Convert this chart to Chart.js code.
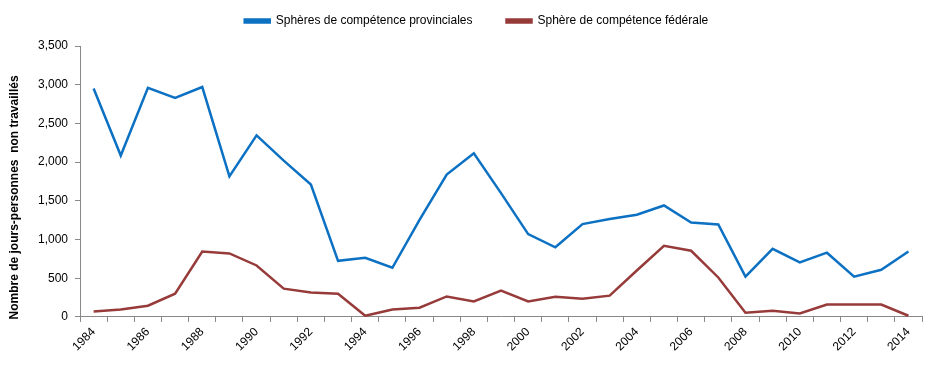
<!DOCTYPE html>
<html>
<head>
<meta charset="utf-8">
<script src="https://cdn.jsdelivr.net/npm/chart.js@4.4.1/dist/chart.umd.min.js"></script>
<style>
  html, body { margin: 0; padding: 0; background: #ffffff; }
  #wrap { width: 936px; height: 365px; position: relative; }
</style>
</head>
<body>
<div id="wrap"><canvas id="c" width="936" height="365"></canvas></div>
<script>
const years = [1984,1985,1986,1987,1988,1989,1990,1991,1992,1993,1994,1995,1996,1997,1998,1999,2000,2001,2002,2003,2004,2005,2006,2007,2008,2009,2010,2011,2012,2013,2014];
const provincial = [2950,2085,2960,2830,2970,1815,2345,2020,1710,725,765,635,1255,1840,2115,1600,1070,900,1200,1265,1320,1440,1220,1195,520,880,705,830,520,610,845];
const federal = [70,95,145,300,845,820,665,365,315,300,15,95,120,265,200,340,200,260,235,275,600,920,855,510,55,80,45,160,160,160,15];
const seriesNames = ["Sphères de compétence provinciales", "Sphère de compétence fédérale"];
const yTitle = "Nombre de jours-personnes  non travaillés";
const yMax = 3500, yStep = 500;

const blue = '#0C71C3';
const red = '#973B3A';
const font = "'Liberation Sans', Arial, sans-serif";

const legendMargin = {
  id: 'legendMargin',
  beforeInit(chart) {
    const orig = chart.legend.fit;
    chart.legend.fit = function () { orig.bind(chart.legend)(); this.height = 65; };
  }
};

const yTitlePlugin = {
  id: 'yTitlePlugin',
  afterDraw(chart) {
    const ca = chart.chartArea;
    const ctx = chart.ctx;
    ctx.save();
    ctx.translate(15, (ca.top + ca.bottom) / 2 + 16);
    ctx.rotate(-Math.PI / 2);
    ctx.font = "bold 12px " + font;
    ctx.fillStyle = '#000';
    ctx.textAlign = 'center';
    ctx.textBaseline = 'middle';
    ctx.fillText(yTitle, 0, 0);
    ctx.restore();
  }
};

new Chart(document.getElementById('c'), {
  type: 'line',
  data: {
    labels: years.map(String),
    datasets: [
      { label: seriesNames[0], data: provincial, borderColor: blue, backgroundColor: blue, borderWidth: 2.5, pointRadius: 0, tension: 0 },
      { label: seriesNames[1], data: federal, borderColor: red, backgroundColor: red, borderWidth: 2.5, pointRadius: 0, tension: 0 }
    ]
  },
  plugins: [legendMargin, yTitlePlugin],
  options: {
    responsive: false,
    animation: false,
    devicePixelRatio: 1,
    layout: { padding: { left: 31, right: 14, top: -19, bottom: 8 } },
    plugins: {
      legend: {
        position: 'top',
        labels: { font: { family: font, size: 12 }, color: '#000', boxWidth: 25, boxHeight: 3, padding: 34 }
      },
      tooltip: { enabled: false }
    },
    scales: {
      x: {
        offset: true,
        grid: { offset: true, drawOnChartArea: false, drawTicks: true, tickLength: 5, color: '#888' },
        border: { color: '#888' },
        ticks: {
          autoSkip: false, maxRotation: 45, minRotation: 45, color: '#000',
          font: { family: font, size: 12 },
          callback: function(v, i) { return (years[i] % 2 === 0) ? String(years[i]) : ''; }
        }
      },
      y: {
        min: 0, max: yMax,
        grid: { drawOnChartArea: false, tickLength: 5, color: '#888' },
        border: { color: '#888' },
        ticks: {
          stepSize: yStep, padding: 7, color: '#000',
          font: { family: font, size: 12 },
          callback: function(v) { return v.toLocaleString('en-US'); }
        },
        title: { display: false }
      }
    }
  }
});
</script>
</body>
</html>
